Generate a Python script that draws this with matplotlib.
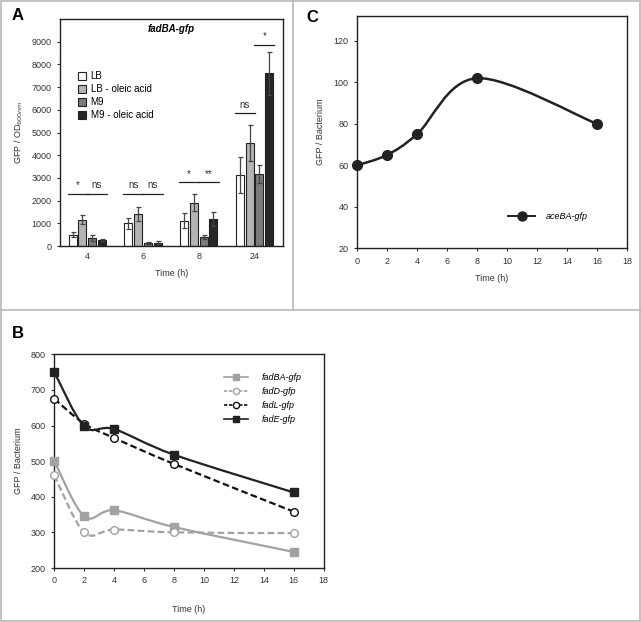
import numpy as np
import matplotlib
matplotlib.use("Agg")
import matplotlib.pyplot as plt
from matplotlib.path import Path
from matplotlib.patches import PathPatch, Rectangle
from matplotlib.lines import Line2D

plt.rcParams['font.family'] = ['Liberation Sans', 'DejaVu Sans']

# Panel A data (fadBA-gfp, GFP / OD600)
times_a = ["4", "6", "8", "24"]
conditions = ["LB", "LB - oleic acid", "M9", "M9 - oleic acid"]
bar_colors = ["#ffffff", "#b4b4b4", "#7c7c7c", "#262626"]
lb = [500, 1000, 1120, 3120]
lb_err = [120, 250, 320, 780]
lb_oleic = [1150, 1400, 1900, 4530]
lb_oleic_err = [200, 320, 370, 780]
m9 = [350, 130, 400, 3170]
m9_err = [130, 30, 70, 400]
m9_oleic = [250, 150, 1200, 7600]
m9_oleic_err = [50, 50, 300, 930]
# significance: (group, pair index, height, label)
sig_group = [0, 0, 1, 1, 2, 2, 3, 3]
sig_pair = [0, 1, 0, 1, 0, 1, 0, 1]
sig_height = [2300, 2300, 2300, 2300, 2800, 2800, 5850, 8870]
sig_label = ["*", "ns", "ns", "ns", "*", "**", "ns", "*"]

# Panel B data
time_b = [0, 2, 4, 8, 16]
fadBA = [500, 345, 362, 315, 245]
fadD = [460, 300, 308, 300, 298]
fadL = [675, 605, 565, 492, 358]
fadE = [750, 598, 590, 518, 412]

# Panel C data
time_c = [0, 2, 4, 8, 16]
aceBA = [60, 65, 75, 102, 80]

FS = 6.5
TXT = '#333333'


def smooth_path(x, y):
    pts = np.column_stack([x, y]).astype(float)
    n = len(pts)
    verts = [pts[0]]
    codes = [Path.MOVETO]
    for i in range(n - 1):
        p0 = pts[max(i - 1, 0)]
        p1 = pts[i]
        p2 = pts[i + 1]
        p3 = pts[min(i + 2, n - 1)]
        verts += [p1 + (p2 - p0) / 6, p2 - (p3 - p1) / 6, p2]
        codes += [Path.CURVE4] * 3
    return Path(verts, codes)


def smooth_line(ax, x, y, color, ls, lw, marker, mfc, ms, z):
    ax.add_patch(PathPatch(smooth_path(x, y), fill=False, edgecolor=color,
                           linestyle=ls, linewidth=lw, zorder=z))
    ax.plot(x, y, ls='none', marker=marker, mfc=mfc, mec=color, mew=1.0,
            ms=ms, zorder=z + 1, clip_on=False)


fig = plt.figure(figsize=(6.41, 6.22), dpi=100)
fig.add_artist(Rectangle((0.001, 0.001), 0.997, 0.997, transform=fig.transFigure,
                         fill=False, edgecolor="#b8b8b8", lw=1.2))
fig.add_artist(Line2D([0, 1], [1 - 310 / 622] * 2, transform=fig.transFigure,
                      color="#b8b8b8", lw=1.2))
fig.add_artist(Line2D([293 / 641] * 2, [1 - 310 / 622, 1], transform=fig.transFigure,
                      color="#b8b8b8", lw=1.2))

tick_kw = dict(labelsize=FS, width=0.8, length=2.5, direction='out', colors=TXT)

# ---------- Panel A ----------
axA = fig.add_axes([60 / 641, 1 - 246 / 622, 223 / 641, 227 / 622])
xa = np.arange(len(times_a)) + 0.47
pitch = 0.175
width = 0.145
series = [(lb, lb_err), (lb_oleic, lb_oleic_err), (m9, m9_err), (m9_oleic, m9_oleic_err)]
for k, (vals, errs) in enumerate(series):
    axA.bar(xa + (k - 1.5) * pitch, vals, width, yerr=errs, color=bar_colors[k],
            edgecolor='#222222', linewidth=0.8, label=conditions[k],
            error_kw=dict(ecolor='#444444', elinewidth=0.9, capsize=1.8, capthick=0.9))
for g, p, h, s in zip(sig_group, sig_pair, sig_height, sig_label):
    left = xa[g] + (2 * p - 1.5) * pitch - width / 2 - 0.02
    right = xa[g] + (2 * p - 0.5) * pitch + width / 2 + 0.02
    axA.plot([left, right], [h, h], color='#222222', lw=0.9)
    axA.text((left + right) / 2, h + 150, s, ha='center', va='bottom',
             fontsize=FS + 0.5, color=TXT)
axA.set_xlim(-0.02, 3.98)
axA.set_ylim(0, 10000)
axA.set_yticks(np.arange(0, 10000, 1000))
axA.set_xticks(xa)
axA.set_xticklabels(times_a)
axA.tick_params(axis='y', **tick_kw)
axA.tick_params(axis='x', labelsize=FS, length=0, pad=4, colors=TXT)
axA.set_xlabel("Time (h)", fontsize=FS, color=TXT, labelpad=6)
axA.set_ylabel("GFP / OD$_{600nm}$", fontsize=FS, color=TXT, labelpad=5)
axA.text(0.5, 0.955, "fadBA-gfp", transform=axA.transAxes, ha='center', va='center',
         fontsize=FS + 0.5, fontweight='bold', fontstyle='italic')
axA.legend(loc='upper left', bbox_to_anchor=(0.05, 0.8), frameon=False, fontsize=FS + 0.5,
           handlelength=0.8, handleheight=0.9, handletextpad=0.5, labelspacing=0.3,
           borderpad=0.2)
for sp in axA.spines.values():
    sp.set_linewidth(1.0)
    sp.set_color('#222222')
fig.text(12 / 641, 1 - 16 / 622, "A", fontsize=12, fontweight='bold', va='center')

# ---------- Panel B ----------
axB = fig.add_axes([54.3 / 641, 1 - 568 / 622, 269.5 / 641, 213.7 / 622])
light = '#a2a2a2'
smooth_line(axB, time_b, fadBA, light, '-', 1.6, 's', light, 6, 2)
smooth_line(axB, time_b, fadD, light, (0, (3, 1.5)), 1.6, 'o', 'white', 5.5, 2)
smooth_line(axB, time_b, fadL, '#111111', (0, (3, 1.5)), 1.6, 'o', 'white', 5.5, 4)
smooth_line(axB, time_b, fadE, '#222222', '-', 1.6, 's', '#222222', 6, 4)
axB.set_xlim(0, 18)
axB.set_ylim(200, 800)
axB.set_xticks(np.arange(0, 19, 2))
axB.set_yticks(np.arange(200, 801, 100))
axB.tick_params(**tick_kw)
axB.set_xlabel("Time (h)", fontsize=FS, color=TXT, labelpad=14)
axB.set_ylabel("GFP / Bacterium", fontsize=FS, color=TXT, labelpad=6)
handles_b = [
    Line2D([], [], color=light, lw=1.2, marker='s', mfc=light, mec=light, ms=4.5),
    Line2D([], [], color=light, lw=1.2, ls=(0, (2, 1)), marker='o', mfc='white', mec=light, ms=4.5),
    Line2D([], [], color='#111111', lw=1.2, ls=(0, (2, 1)), marker='o', mfc='white', mec='#111111', ms=4.5),
    Line2D([], [], color='#222222', lw=1.2, marker='s', mfc='#222222', mec='#222222', ms=4.5),
]
axB.legend(handles_b, ["fadBA-gfp", "fadD-gfp", "fadL-gfp", "fadE-gfp"],
           loc='upper left', bbox_to_anchor=(0.6, 0.95), frameon=False,
           prop=dict(size=FS, style='italic'), handlelength=2.6, handletextpad=1.6,
           labelspacing=0.55)
for sp in axB.spines.values():
    sp.set_linewidth(1.0)
    sp.set_color('#222222')
fig.text(12 / 641, 1 - 334 / 622, "B", fontsize=12, fontweight='bold', va='center')

# ---------- Panel C ----------
axC = fig.add_axes([357 / 641, 1 - 248.3 / 622, 270 / 641, 232.3 / 622])
smooth_line(axC, time_c, aceBA, '#222222', '-', 1.8, 'o', '#222222', 7, 2)
axC.set_xlim(0, 18)
axC.set_ylim(20, 132)
axC.set_xticks(np.arange(0, 19, 2))
axC.set_yticks(np.arange(20, 121, 20))
axC.tick_params(**tick_kw)
axC.set_xlabel("Time (h)", fontsize=FS, color=TXT, labelpad=6)
axC.set_ylabel("GFP / Bacterium", fontsize=FS, color=TXT, labelpad=6)
handle_c = Line2D([], [], color='#222222', lw=1.4, marker='o', mfc='#222222',
                  mec='#222222', ms=6.5)
axC.legend([handle_c], ["aceBA-gfp"], loc='center left', bbox_to_anchor=(0.53, 0.135),
           frameon=False, prop=dict(size=FS, style='italic'), handlelength=3,
           handletextpad=1.2)
for sp in axC.spines.values():
    sp.set_linewidth(1.0)
    sp.set_color('#222222')
fig.text(306 / 641, 1 - 18 / 622, "C", fontsize=12, fontweight='bold', va='center')

fig.savefig("out.png", dpi=100)
